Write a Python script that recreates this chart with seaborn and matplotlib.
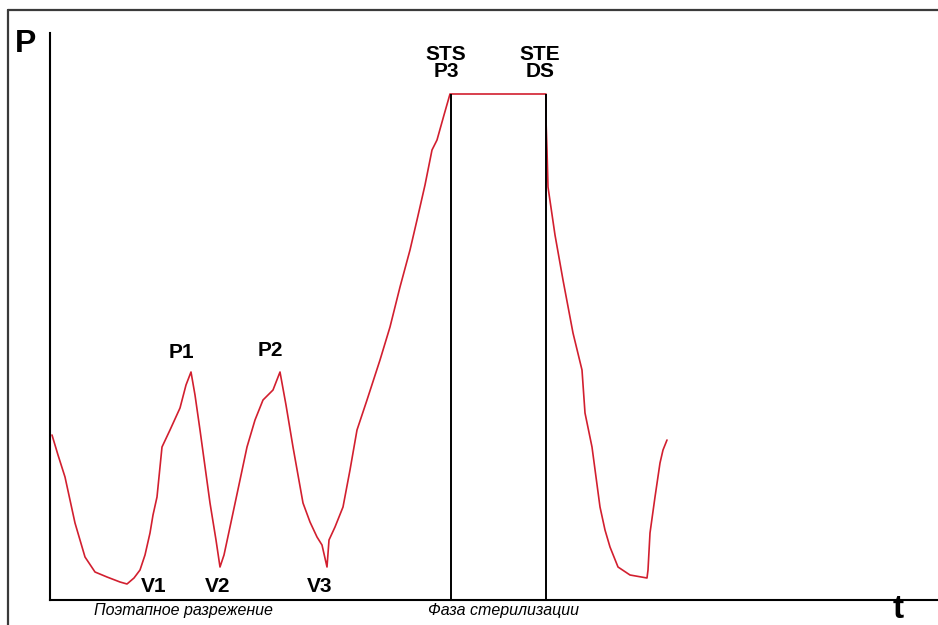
import pandas as pd
import seaborn as sns
import matplotlib.pyplot as plt
from matplotlib.lines import Line2D

# Кривая давления по времени
time = [2, 8, 15, 25, 35, 45, 57, 70, 77, 84,
        90, 95, 100, 103, 107, 112, 120, 130, 136, 141,
        145, 150, 160, 166, 170, 174, 180, 190, 197, 205,
        213, 223, 230, 236, 243, 253, 260, 267, 272, 277,
        279, 285, 293, 300, 307, 317, 330, 340, 350, 360,
        367, 375, 382, 387, 394, 400, 496, 496, 497, 498,
        505, 513, 523, 532, 535, 542, 550, 555, 560, 568,
        580, 597, 598, 600, 605, 610, 613, 617]
pressure = [165, 145, 123, 77, 43, 28, 23, 18, 16, 22,
            30, 45, 67, 85, 103, 153, 170, 192, 215, 228,
            205, 170, 97, 60, 33, 45, 73, 120, 153, 180,
            200, 210, 228, 195, 153, 97, 78, 63, 55, 33,
            60, 73, 93, 130, 170, 200, 240, 273, 313, 350,
            380, 415, 450, 460, 485, 506, 506, 480, 450, 413,
            365, 320, 267, 230, 187, 153, 93, 70, 53, 33,
            25, 22, 30, 67, 103, 137, 150, 160]

# Точки с подписями
point_labels = ["P1", "P2", "V1", "V2", "V3"]
point_t = [131, 220, 104, 168, 270]
point_p = [248, 250, 13, 13, 13]

# Начало и конец стерилизации
phase_t = [401, 496]
phase_labels = ["STS\nP3", "STE\nDS"]
phase_label_t = [396, 490]
plateau = 506

df = pd.DataFrame({"t": time, "P": pressure})

sns.set_style("white")
plt.rcParams["font.family"] = ["Liberation Sans", "DejaVu Sans"]
plt.rcParams["text.color"] = "black"

fig = plt.figure(figsize=(9.38, 6.25), dpi=100)
ax = fig.add_axes([50 / 938, 25 / 625, 888 / 938, 567 / 625])

sns.lineplot(data=df, x="t", y="P", sort=False, estimator=None,
             color="#d21f2f", linewidth=1.2, ax=ax)

ax.vlines(phase_t, 0, plateau, color="black", linewidth=1.4)

ax.set_xlim(0, 888)
ax.set_ylim(0, 567)
ax.set_xticks([])
ax.set_yticks([])
ax.set_xlabel("")
ax.set_ylabel("")
for side in ["top", "right"]:
    ax.spines[side].set_visible(False)
for side in ["left", "bottom"]:
    ax.spines[side].set_color("black")
    ax.spines[side].set_linewidth(1.5)

for lab, x, y in zip(point_labels, point_t, point_p):
    ax.text(x, y, lab, ha="center", va="center", fontsize=15,
            fontweight="bold", clip_on=False)

for lab, x in zip(phase_labels, phase_label_t):
    ax.text(x, 537, lab, ha="center", va="center", fontsize=15,
            fontweight="bold", linespacing=0.9, clip_on=False)

# Подписи фаз под осью
ax.text(133, -11, "Поэтапное разрежение", ha="center", va="center",
        fontsize=11.5, style="italic", clip_on=False)
ax.text(453, -11, "Фаза стерилизации", ha="center", va="center",
        fontsize=11.5, style="italic", clip_on=False)

# Оси P и t
fig.text(26 / 938, 1 - 44 / 625, "P", ha="center", va="center",
         fontsize=23, fontweight="bold")
fig.text(898 / 938, 1 - 610 / 625, "t", ha="center", va="center",
         fontsize=24, fontweight="bold")

# Рамка картинки
fx, fy = 8 / 938, 1 - 10 / 625
fig.add_artist(Line2D([fx, fx], [0, fy], color="#3a3a3a", linewidth=1.6))
fig.add_artist(Line2D([fx, 1], [fy, fy], color="#3a3a3a", linewidth=1.6))

fig.savefig("out.png", dpi=100)
